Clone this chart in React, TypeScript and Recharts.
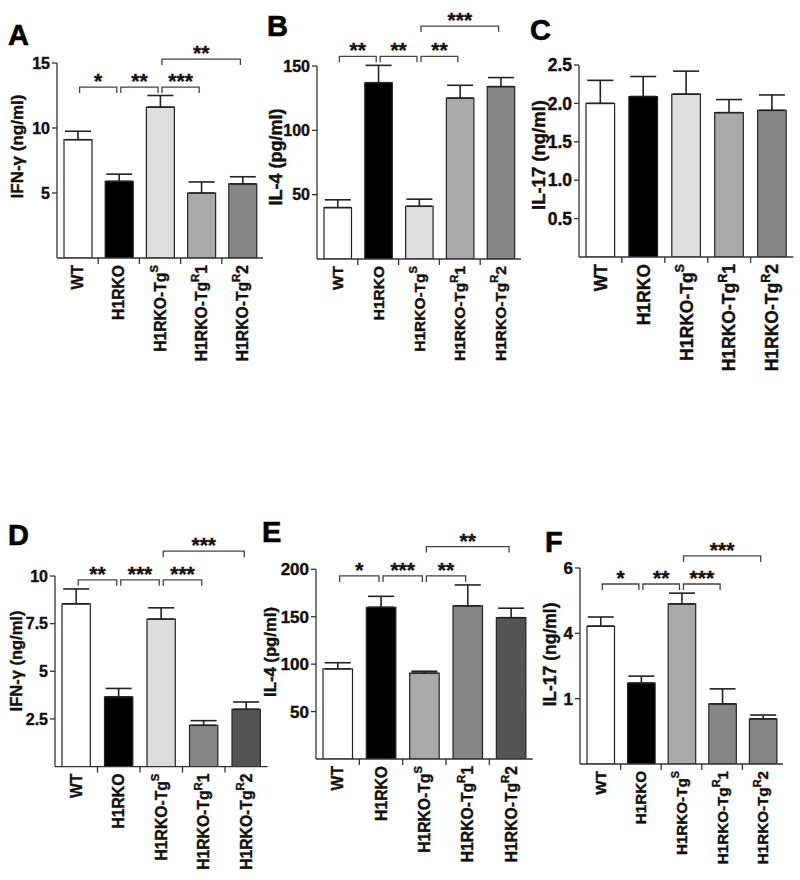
import React from 'react';
import { BarChart, Bar, XAxis, YAxis, ErrorBar, ReferenceLine, Cell } from 'recharts';

const FONT = '"Liberation Sans", Arial, Helvetica, sans-serif';
const TXT = '#111';
const TXT_STROKE = 0.4;

// Categories and tick label parts
const categories = ['WT', 'H1RKO', 'H1RKO-TgS', 'H1RKO-TgR1', 'H1RKO-TgR2'];
const labelMain = ['WT', 'H1RKO', 'H1RKO-Tg', 'H1RKO-Tg', 'H1RKO-Tg'];
const labelSup = ['', '', 'S', 'R', 'R'];
const labelTail = ['', '', '', '1', '2'];

// Panel A: IFN-γ (ng/ml)
const ifnA = [9.1, 5.9, 11.6, 5.0, 5.7];
const ifnAErr = [0.65, 0.55, 0.9, 0.85, 0.55];
const ticksA = [5, 10, 15];
const tickLabelsA = ['5', '10', '15'];
const sigA = [
  { from: 0, to: 1, y: 13.15, stars: '*' },
  { from: 1, to: 2, y: 13.15, stars: '**' },
  { from: 2, to: 3, y: 13.15, stars: '***' },
  { from: 2, to: 4, y: 15.3, stars: '**' },
];

// Panel B: IL-4 (pg/ml)
const il4B = [40, 137, 41, 125, 134];
const il4BErr = [6, 13.5, 5.5, 10, 7];
const ticksB = [50, 100, 150];
const tickLabelsB = ['50', '100', '150'];
const sigB = [
  { from: 0, to: 1, y: 157.5, stars: '**' },
  { from: 1, to: 2, y: 157.5, stars: '**' },
  { from: 2, to: 3, y: 157.5, stars: '**' },
  { from: 2, to: 4, y: 181, stars: '***' },
];

// Panel C: IL-17 (ng/ml)
const il17C = [2.0, 2.09, 2.12, 1.88, 1.91];
const il17CErr = [0.3, 0.26, 0.3, 0.17, 0.2];
const ticksC = [0.5, 1, 1.5, 2, 2.5];
const tickLabelsC = ['0.5', '1.0', '1.5', '2.0', '2.5'];
const sigC: { from: number; to: number; y: number; stars: string }[] = [];

// Panel D: IFN-γ (ng/ml)
const ifnD = [8.54, 3.66, 7.74, 2.17, 3.01];
const ifnDErr = [0.78, 0.44, 0.59, 0.24, 0.38];
const ticksD = [2.5, 5, 7.5, 10];
const tickLabelsD = ['2.5', '5', '7.5', '10'];
const sigD = [
  { from: 0, to: 1, y: 9.8, stars: '**' },
  { from: 1, to: 2, y: 9.8, stars: '***' },
  { from: 2, to: 3, y: 9.8, stars: '***' },
  { from: 2, to: 4, y: 11.3, stars: '***' },
];

// Panel E: IL-4 (pg/ml)
const il4E = [95, 160, 90.5, 161.5, 149];
const il4EErr = [6.5, 11.5, 2, 22, 10];
const ticksE = [50, 100, 150, 200];
const tickLabelsE = ['50', '100', '150', '200'];
const sigE = [
  { from: 0, to: 1, y: 193, stars: '*' },
  { from: 1, to: 2, y: 193, stars: '***' },
  { from: 2, to: 3, y: 193, stars: '**' },
  { from: 2, to: 4, y: 224, stars: '**' },
];

// Panel F: IL-17 (ng/ml)
const il17F = [4.22, 2.48, 4.9, 1.84, 1.38];
const il17FErr = [0.28, 0.21, 0.33, 0.46, 0.12];
const ticksF = [2, 4, 6];
const tickLabelsF = ['1', '4', '6'];
const sigF = [
  { from: 0, to: 1, y: 5.51, stars: '*' },
  { from: 1, to: 2, y: 5.51, stars: '**' },
  { from: 2, to: 3, y: 5.51, stars: '***' },
  { from: 2, to: 4, y: 6.37, stars: '***' },
];

type Sig = { from: number; to: number; y: number; stars: string };

type PanelProps = {
  letter: string;
  values: number[];
  errors: number[];
  ticks: number[];
  tickLabels: string[];
  domainMax: number;
  yLabel: string;
  fills: string[];
  sigs: Sig[];
  left: number;
  top: number;
  width: number;
  height: number;
  yw: number;
  mt: number;
  mr: number;
  xh: number;
  mb: number;
  barSize: number;
  xFs: number;
  yFs: number;
  labelFs: number;
  lx: number;
  ly: number;
};

const XTick = (props: any) => {
  const { x, y, payload, half, fs } = props;
  const i = categories.indexOf(payload.value);
  const sup = labelSup[i];
  const tail = labelTail[i];
  return (
    <g>
      {i < categories.length - 1 && (
        <line x1={x + half} x2={x + half} y1={y} y2={y + 6} stroke="#333" strokeWidth={1.3} />
      )}
      <text
        transform={`translate(${x + fs * 0.36},${y + 7}) rotate(-90)`}
        textAnchor="end"
        fontSize={fs}
        fontWeight="bold"
        fontFamily={FONT}
        fill={TXT}
        stroke={TXT}
        strokeWidth={TXT_STROKE}
      >
        <tspan>{labelMain[i]}</tspan>
        {sup && (
          <tspan dy={-fs * 0.5} fontSize={fs * 0.72}>
            {sup}
          </tspan>
        )}
        {tail && <tspan dy={fs * 0.5}>{tail}</tspan>}
      </text>
    </g>
  );
};

const Bracket = (props: any) => {
  const { x1, y1, x2, stars } = props;
  const a = Math.min(x1, x2) + 2;
  const b = Math.max(x1, x2) - 2;
  return (
    <g>
      <path d={`M${a},${y1 + 6}V${y1}H${b}V${y1 + 6}`} fill="none" stroke="#444" strokeWidth={1.3} />
      <text
        x={(a + b) / 2}
        y={y1 + 1}
        textAnchor="middle"
        fontSize={21}
        fontWeight="bold"
        fontFamily={FONT}
        fill={TXT}
        stroke={TXT}
        strokeWidth={TXT_STROKE}
      >
        {stars}
      </text>
    </g>
  );
};

const Panel = (p: PanelProps) => {
  const data = categories.map((c, i) => ({ name: c, value: p.values[i], err: [0, p.errors[i]] }));
  const plotW = p.width - p.yw - p.mr;
  const half = plotW / categories.length / 2;
  return (
    <div style={{ position: 'absolute', left: p.left, top: p.top, width: p.width, height: p.height }}>
      <BarChart
        width={p.width}
        height={p.height}
        data={data}
        margin={{ top: p.mt, right: p.mr, bottom: p.mb, left: 0 }}
        barCategoryGap={0}
      >
        <XAxis
          dataKey="name"
          type="category"
          height={p.xh}
          interval={0}
          tickLine={false}
          tickSize={0}
          tickMargin={0}
          axisLine={{ stroke: '#333', strokeWidth: 1.3 }}
          tick={(tp: any) => <XTick {...tp} half={half} fs={p.xFs} />}
        />
        <YAxis
          type="number"
          width={p.yw}
          domain={[0, p.domainMax]}
          allowDataOverflow
          ticks={p.ticks}
          interval={0}
          tickSize={5}
          tickMargin={2}
          tickFormatter={(v: number) => p.tickLabels[p.ticks.indexOf(v)] ?? String(v)}
          tick={{
            fontSize: p.yFs,
            fontWeight: 'bold',
            fill: TXT,
            stroke: TXT,
            strokeWidth: TXT_STROKE,
            fontFamily: FONT,
          }}
          tickLine={{ stroke: '#333', strokeWidth: 1.3 }}
          axisLine={{ stroke: '#333', strokeWidth: 1.3 }}
          label={{
            content: () => (
              <text
                transform={`translate(${p.lx},${p.ly}) rotate(-90)`}
                textAnchor="middle"
                dominantBaseline="central"
                fontSize={p.labelFs}
                fontWeight="bold"
                fontFamily={FONT}
                fill={TXT}
                stroke={TXT}
                strokeWidth={TXT_STROKE}
              >
                {p.yLabel}
              </text>
            ),
          }}
        />
        <Bar dataKey="value" barSize={p.barSize} stroke="#222" strokeWidth={1.2} isAnimationActive={false}>
          {data.map((d, i) => (
            <Cell key={d.name} fill={p.fills[i]} />
          ))}
          <ErrorBar dataKey="err" direction="y" width={13} stroke="#222" strokeWidth={1.6} isAnimationActive={false} />
        </Bar>
        {p.sigs.map((s, k) => (
          <ReferenceLine
            key={k}
            ifOverflow="visible"
            segment={[
              { x: categories[s.from], y: s.y },
              { x: categories[s.to], y: s.y },
            ]}
            stroke="#444"
            shape={(lp: any) => <Bracket {...lp} stars={s.stars} />}
          />
        ))}
      </BarChart>
    </div>
  );
};

const letters = [
  { t: 'A', x: 8, y: 45 },
  { t: 'B', x: 267, y: 36 },
  { t: 'C', x: 530, y: 40 },
  { t: 'D', x: 8, y: 545 },
  { t: 'E', x: 262, y: 542 },
  { t: 'F', x: 545, y: 552 },
];

export default function App() {
  return (
    <div style={{ position: 'absolute', left: 0, top: 0, width: 800, height: 880, background: '#fff', overflow: 'hidden' }}>
      <Panel
        letter="A" values={ifnA} errors={ifnAErr} ticks={ticksA} tickLabels={tickLabelsA} domainMax={15}
        yLabel="IFN-γ (ng/ml)" fills={['#ffffff', '#000000', '#dedede', '#aaaaaa', '#868686']} sigs={sigA}
        left={0} top={0} width={270} height={400} yw={57} mt={63} mr={7} xh={140} mb={2} barSize={28}
        xFs={15.7} yFs={16} labelFs={17} lx={17} ly={146.5}
      />
      <Panel
        letter="B" values={il4B} errors={il4BErr} ticks={ticksB} tickLabels={tickLabelsB} domainMax={150}
        yLabel="IL-4 (pg/ml)" fills={['#ffffff', '#000000', '#dedede', '#aaaaaa', '#868686']} sigs={sigB}
        left={260} top={0} width={270} height={400} yw={57} mt={66} mr={9} xh={139} mb={2} barSize={27.5}
        xFs={15.5} yFs={16} labelFs={18} lx={16} ly={157}
      />
      <Panel
        letter="C" values={il17C} errors={il17CErr} ticks={ticksC} tickLabels={tickLabelsC} domainMax={2.5}
        yLabel="IL-17 (ng/ml)" fills={['#ffffff', '#000000', '#dedede', '#aaaaaa', '#868686']} sigs={sigC}
        left={520} top={0} width={280} height={400} yw={59} mt={65} mr={6.5} xh={141} mb={2} barSize={28.6}
        xFs={17.5} yFs={17.5} labelFs={18.5} lx={18} ly={155}
      />
      <Panel
        letter="D" values={ifnD} errors={ifnDErr} ticks={ticksD} tickLabels={tickLabelsD} domainMax={10}
        yLabel="IFN-γ (ng/ml)" fills={['#ffffff', '#000000', '#dcdcdc', '#868686', '#545454']} sigs={sigD}
        left={0} top={500} width={270} height={380} yw={55} mt={76} mr={2.5} xh={111.4} mb={2} barSize={28.3}
        xFs={15.7} yFs={16} labelFs={16.5} lx={16} ly={161}
      />
      <Panel
        letter="E" values={il4E} errors={il4EErr} ticks={ticksE} tickLabels={tickLabelsE} domainMax={200}
        yLabel="IL-4 (pg/ml)" fills={['#ffffff', '#000000', '#aaaaaa', '#868686', '#545454']} sigs={sigE}
        left={260} top={500} width={275} height={380} yw={56} mt={69.3} mr={2.3} xh={119} mb={2} barSize={29.5}
        xFs={15.7} yFs={17} labelFs={16.7} lx={10} ly={152}
      />
      <Panel
        letter="F" values={il17F} errors={il17FErr} ticks={ticksF} tickLabels={tickLabelsF} domainMax={6}
        yLabel="IL-17 (ng/ml)" fills={['#ffffff', '#000000', '#aaaaaa', '#868686', '#868686']} sigs={sigF}
        left={520} top={500} width={280} height={380} yw={60} mt={68} mr={17} xh={114} mb={2} barSize={27.5}
        xFs={15.2} yFs={17} labelFs={17.5} lx={30} ly={154.5}
      />
      <svg width={800} height={880} style={{ position: 'absolute', left: 0, top: 0, pointerEvents: 'none' }}>
        {letters.map((l) => (
          <text key={l.t} x={l.x} y={l.y} fontSize={29} fontWeight="bold" fontFamily={FONT} fill="#000" stroke="#000" strokeWidth={0.6}>
            {l.t}
          </text>
        ))}
      </svg>
    </div>
  );
}
